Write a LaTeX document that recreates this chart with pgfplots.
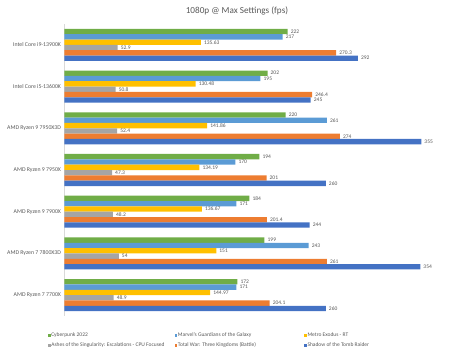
\documentclass[border=0pt]{standalone}
\usepackage{pgfplots}
\pgfplotsset{compat=1.18}
\usepackage{fontspec}
\setmainfont{Carlito}
\definecolor{cgreen}{HTML}{70AD47}
\definecolor{clblue}{HTML}{5B9BD5}
\definecolor{cyellow}{HTML}{FFC000}
\definecolor{cgray}{HTML}{A5A5A5}
\definecolor{corange}{HTML}{ED7D31}
\definecolor{cdblue}{HTML}{4472C4}
\definecolor{txt}{HTML}{595959}
\pgfplotstableread{
g cyber marvel metro ashes tw shadow
0 222 217 135.63 52.9 270.3 292
1 202 195 130.48 50.8 246.4 245
2 220 261 141.86 52.4 274 355
3 194 170 134.19 47.3 201 260
4 184 171 136.67 48.2 201.4 244
5 199 243 151 54 261 354
6 172 171 144.97 48.9 204.1 260
}\data
\begin{document}
\begin{tikzpicture}
\path[use as bounding box] (-64.5pt,-37pt) rectangle (409.5pt,316pt);
\node[font=\fontsize{9.2}{11}\selectfont, text=txt] at (172.5pt,305pt) {1080p @ Max Settings (fps)};
\begin{axis}[
  at={(0pt,0pt)}, anchor=south west,
  scale only axis, width=402pt, height=292pt,
  xbar, bar width=0.128,
  xmin=0, xmax=400,
  ymin=-0.5, ymax=6.5, y dir=reverse,
  axis x line=none,
  axis y line*=left,
  y axis line style={draw=black!15, line width=0.6pt},
  ytick={0,...,6},
  yticklabels={Intel Core i9-13900K, Intel Core i5-13600K, AMD Ryzen 9 7950X3D, AMD Ryzen 9 7950X, AMD Ryzen 9 7900X, AMD Ryzen 7 7800X3D, AMD Ryzen 7 7700X},
  yticklabel style={font=\fontsize{5.8}{6.5}\selectfont, text=txt},
  major tick length=0pt,
  /pgf/number format/assume math mode=true,
  nodes near coords,
  nodes near coords style={font=\fontsize{5.5}{6}\selectfont, text=txt, fill=white, inner xsep=1pt, inner ysep=0.2pt, xshift=2pt, anchor=west},
  every axis plot/.append style={draw=none},
  legend image code/.code={\fill[#1,draw=none] (0pt,-1.3pt) rectangle (2.6pt,1.3pt);},
  legend columns=3,
  legend style={draw=none, fill=none, at={(-0.041,-0.055)}, anchor=north west,
    font=\fontsize{5.5}{6}\selectfont, text=txt, inner sep=0pt, row sep=3.5pt,
    nodes={inner sep=0.5pt}},
  legend cell align=left,
]
\addplot[fill=cgreen, bar shift=-0.32] table[x=cyber, y=g] {\data};
\addplot[fill=clblue, bar shift=-0.192] table[x=marvel, y=g] {\data};
\addplot[fill=cyellow, bar shift=-0.064] table[x=metro, y=g] {\data};
\addplot[fill=cgray, bar shift=0.064] table[x=ashes, y=g] {\data};
\addplot[fill=corange, bar shift=0.192] table[x=tw, y=g] {\data};
\addplot[fill=cdblue, bar shift=0.32] table[x=shadow, y=g] {\data};
\legend{\makebox[123pt][l]{Cyberpunk 2022}, \makebox[126pt][l]{Marvel's Guardians of the Galaxy}, Metro Exodus - RT,
  \makebox[123pt][l]{Ashes of the Singularity: Escalations - CPU Focused}, \makebox[126pt][l]{Total War: Three Kingdoms (Battle)}, Shadow of the Tomb Raider}
\end{axis}
\end{tikzpicture}
\end{document}
